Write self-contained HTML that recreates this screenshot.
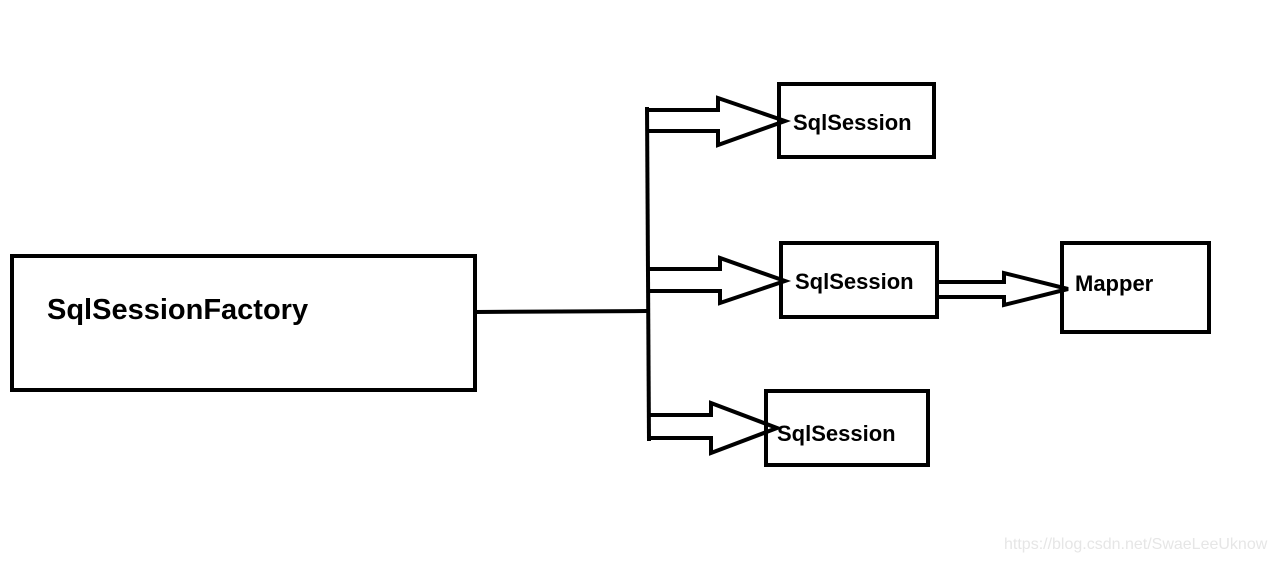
<!DOCTYPE html>
<html><head><meta charset="utf-8"><style>
html,body{margin:0;padding:0;background:#fff;}
svg{display:block;}
text{font-family:"Liberation Sans",sans-serif;font-weight:bold;fill:#000;}
</style></head><body>
<svg width="1277" height="561" viewBox="0 0 1277 561" xmlns="http://www.w3.org/2000/svg">
<g fill="none" stroke="#000" stroke-width="4" stroke-linejoin="miter">
<rect x="12" y="256" width="463" height="134"/>
<line x1="475" y1="312" x2="647" y2="311"/>
<line x1="647" y1="107" x2="649" y2="441"/>
<rect x="779" y="84" width="155" height="73"/>
<rect x="781" y="243" width="156" height="74"/>
<rect x="766" y="391" width="162" height="74"/>
<rect x="1062" y="243" width="147" height="89"/>
<polyline points="647,110 718,110 718,98 785,121 718,145 718,131 647,131"/>
<polyline points="647,269 720,269 720,258 785,281 720,303 720,291 647,291"/>
<polyline points="647,415 711,415 711,403 777,428 711,453 711,438 647,438"/>
<polyline points="937,282 1004,282 1004,273 1068,289 1004,305 1004,297 937,297"/>
</g>
<text x="47" y="319" font-size="29">SqlSessionFactory</text>
<text x="793" y="130" font-size="22">SqlSession</text>
<text x="795" y="289" font-size="22">SqlSession</text>
<text x="777" y="441" font-size="22">SqlSession</text>
<text x="1075" y="291" font-size="22">Mapper</text>
<text x="1004" y="549" font-size="16" style="font-weight:normal;fill:#e6e6e6">https://blog.csdn.net/SwaeLeeUknow</text>
</svg>
</body></html>
